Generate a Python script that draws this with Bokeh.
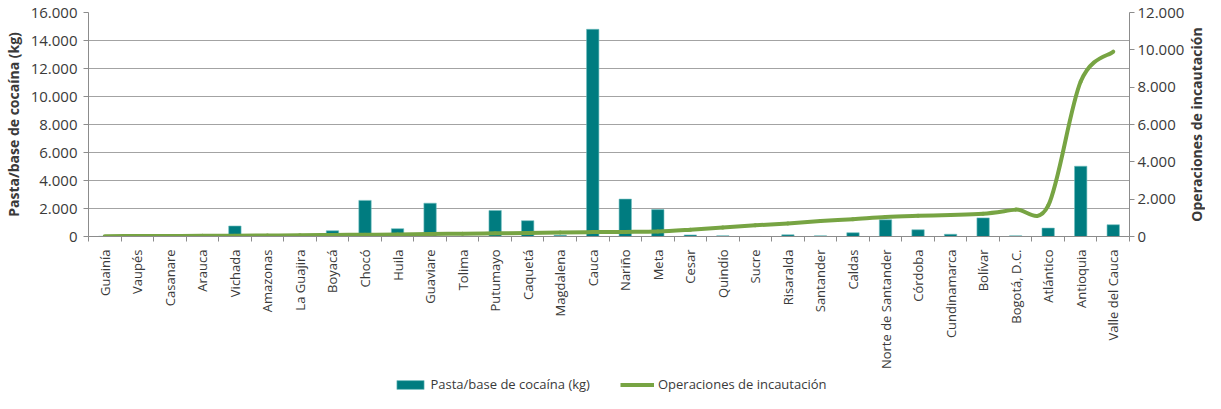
import math
from bokeh.plotting import figure
from bokeh.layouts import column, row
from bokeh.models import Range1d, LinearAxis, FixedTicker, Legend, LegendItem, Label
from bokeh.embed import file_html
from bokeh.resources import INLINE

departamentos = [
    "Guainía", "Vaupés", "Casanare", "Arauca", "Vichada", "Amazonas", "La Guajira",
    "Boyacá", "Chocó", "Huila", "Guaviare", "Tolima", "Putumayo", "Caquetá",
    "Magdalena", "Cauca", "Nariño", "Meta", "Cesar", "Quindío", "Sucre", "Risaralda",
    "Santander", "Caldas", "Norte de Santander", "Córdoba", "Cundinamarca", "Bolívar",
    "Bogotá, D.C.", "Atlántico", "Antioquia", "Valle del Cauca",
]
pasta_kg = [
    15, 0, 0, 0, 750, 0, 5,
    410, 2580, 560, 2380, 10, 1860, 1130,
    90, 14800, 2670, 1920, 110, 55, 5, 120,
    50, 270, 1190, 480, 160, 1330,
    50, 600, 5020, 840,
]
operaciones = [
    20, 25, 30, 35, 45, 55, 65,
    80, 95, 110, 135, 150, 170, 190,
    220, 235, 245, 265, 360, 480, 600, 700,
    830, 930, 1050, 1110, 1150, 1220,
    1440, 1650, 8300, 9900,
]
left_ticks = list(range(0, 16001, 2000))
right_ticks = list(range(0, 12001, 2000))
series_names = ["Pasta/base de cocaína (kg)", "Operaciones de incautación"]

TEAL = "#007C80"
GREEN = "#77A443"
GRID = "#A3A3A3"
AXIS = "#8C8C8C"
TXT = "#3A3A3A"
FONT = "Open Sans"


def fmt(v):
    return f"{v:,}".replace(",", ".")


n = len(departamentos)
xs = [i + 0.5 for i in range(n)]

p = figure(width=1187, height=375, x_range=Range1d(0, n), y_range=Range1d(0, 16000),
           output_backend="svg", toolbar_location=None,
           min_border_left=80, min_border_right=50, min_border_top=12, min_border_bottom=139)
p.extra_y_ranges = {"ops": Range1d(0, 12000)}
p.outline_line_color = None
p.background_fill_color = "white"
p.border_fill_color = "white"

p.xgrid.visible = False
p.ygrid.ticker = FixedTicker(ticks=left_ticks)
p.ygrid.grid_line_color = GRID
p.ygrid.grid_line_width = 1

# bars
p.vbar(x=xs, top=pasta_kg, width=0.38, fill_color=TEAL, line_color="#6FBDBD", line_width=0.6)

# smoothed line (Catmull-Rom style bezier through the data points)
x0s, y0s, x1s, y1s, cx0s, cy0s, cx1s, cy1s = [], [], [], [], [], [], [], []
for i in range(n - 1):
    a = max(i - 1, 0)
    b = min(i + 2, n - 1)
    x0s.append(xs[i]); y0s.append(operaciones[i])
    x1s.append(xs[i + 1]); y1s.append(operaciones[i + 1])
    cx0s.append(xs[i] + (xs[i + 1] - xs[a]) / 6)
    cy0s.append(operaciones[i] + (operaciones[i + 1] - operaciones[a]) / 6)
    cx1s.append(xs[i + 1] - (xs[b] - xs[i]) / 6)
    cy1s.append(operaciones[i + 1] - (operaciones[b] - operaciones[i]) / 6)
p.bezier(x0=x0s, y0=y0s, x1=x1s, y1=y1s, cx0=cx0s, cy0=cy0s, cx1=cx1s, cy1=cy1s,
         line_color=GREEN, line_width=4, line_cap="round", y_range_name="ops")

# x axis
xa = p.xaxis[0]
xa.ticker = FixedTicker(ticks=xs, minor_ticks=list(range(n + 1)))
xa.major_label_overrides = {x: name for x, name in zip(xs, departamentos)}
xa.major_label_orientation = math.pi / 2
xa.major_tick_out = 0
xa.major_tick_in = 0
xa.minor_tick_out = 5
xa.minor_tick_in = 0
xa.minor_tick_line_color = AXIS
xa.axis_line_color = AXIS
xa.major_label_text_font = FONT
xa.major_label_text_font_size = "13px"
xa.major_label_text_color = TXT
xa.major_label_standoff = 8

# left axis
ya = p.yaxis[0]
ya.ticker = FixedTicker(ticks=left_ticks)
ya.major_label_overrides = {v: fmt(v) for v in left_ticks}
ya.axis_label = series_names[0]
ya.axis_label_text_font = FONT
ya.axis_label_text_font_style = "bold"
ya.axis_label_text_font_size = "14px"
ya.axis_label_text_color = TXT
ya.axis_label_standoff = 5
ya.major_label_text_font = FONT
ya.major_label_text_font_size = "15px"
ya.major_label_text_color = TXT
ya.major_label_standoff = 6
ya.major_tick_out = 5
ya.major_tick_in = 0
ya.minor_tick_out = 0
ya.minor_tick_in = 0
ya.major_tick_line_color = AXIS
ya.axis_line_color = AXIS

# right axis (ticks and labels; its title is drawn in the strip to the right)
ra = LinearAxis(y_range_name="ops", ticker=FixedTicker(ticks=right_ticks))
ra.major_label_overrides = {v: fmt(v) for v in right_ticks}
ra.major_label_text_font = FONT
ra.major_label_text_font_size = "15px"
ra.major_label_text_color = TXT
ra.major_label_standoff = 3
ra.major_tick_out = 5
ra.major_tick_in = 0
ra.minor_tick_out = 0
ra.minor_tick_in = 0
ra.major_tick_line_color = AXIS
ra.axis_line_color = AXIS
p.add_layout(ra, "right")

# right-axis title strip, reading bottom to top like the reference
rt = figure(width=18, height=375, x_range=Range1d(0, 1), y_range=Range1d(0, 1),
            output_backend="svg", toolbar_location=None,
            x_axis_location=None, y_axis_location=None,
            min_border_left=0, min_border_right=0, min_border_top=12, min_border_bottom=139)
rt.grid.visible = False
rt.outline_line_color = None
rt.add_layout(Label(x=0.5, y=0.5, text=series_names[1], angle=math.pi / 2,
                    text_align="center", text_baseline="middle", text_font=FONT,
                    text_font_style="bold", text_font_size="14px", text_color=TXT))

# legend strip (separate figure so it is not clipped by the main frame)
nan = float("nan")
lg = figure(width=1205, height=18, x_range=Range1d(0, 1), y_range=Range1d(0, 1),
            output_backend="svg", toolbar_location=None,
            x_axis_location=None, y_axis_location=None,
            min_border_left=14, min_border_right=0, min_border_top=0, min_border_bottom=0)
lg.grid.visible = False
lg.outline_line_color = None
r_bar = lg.vbar(x=[nan], top=[nan], width=0.38, fill_color=TEAL, line_color="#6FBDBD", line_width=0.6)
r_line = lg.line(x=[nan, nan], y=[nan, nan], line_color=GREEN, line_width=4)
legend = Legend(items=[LegendItem(label=series_names[0], renderers=[r_bar]),
                       LegendItem(label=series_names[1], renderers=[r_line])],
                orientation="horizontal", location="center")
legend.label_text_font = FONT
legend.label_text_font_size = "13px"
legend.label_text_color = TXT
legend.glyph_width = 34
legend.glyph_height = 11
legend.label_height = 16
legend.label_standoff = 4
legend.spacing = 30
legend.padding = 0
legend.margin = 0
legend.border_line_alpha = 0
legend.background_fill_alpha = 0
lg.add_layout(legend, "center")

layout = column(row(p, rt, spacing=0), lg, spacing=0)
open("out.html", "w").write(file_html(layout, INLINE))
